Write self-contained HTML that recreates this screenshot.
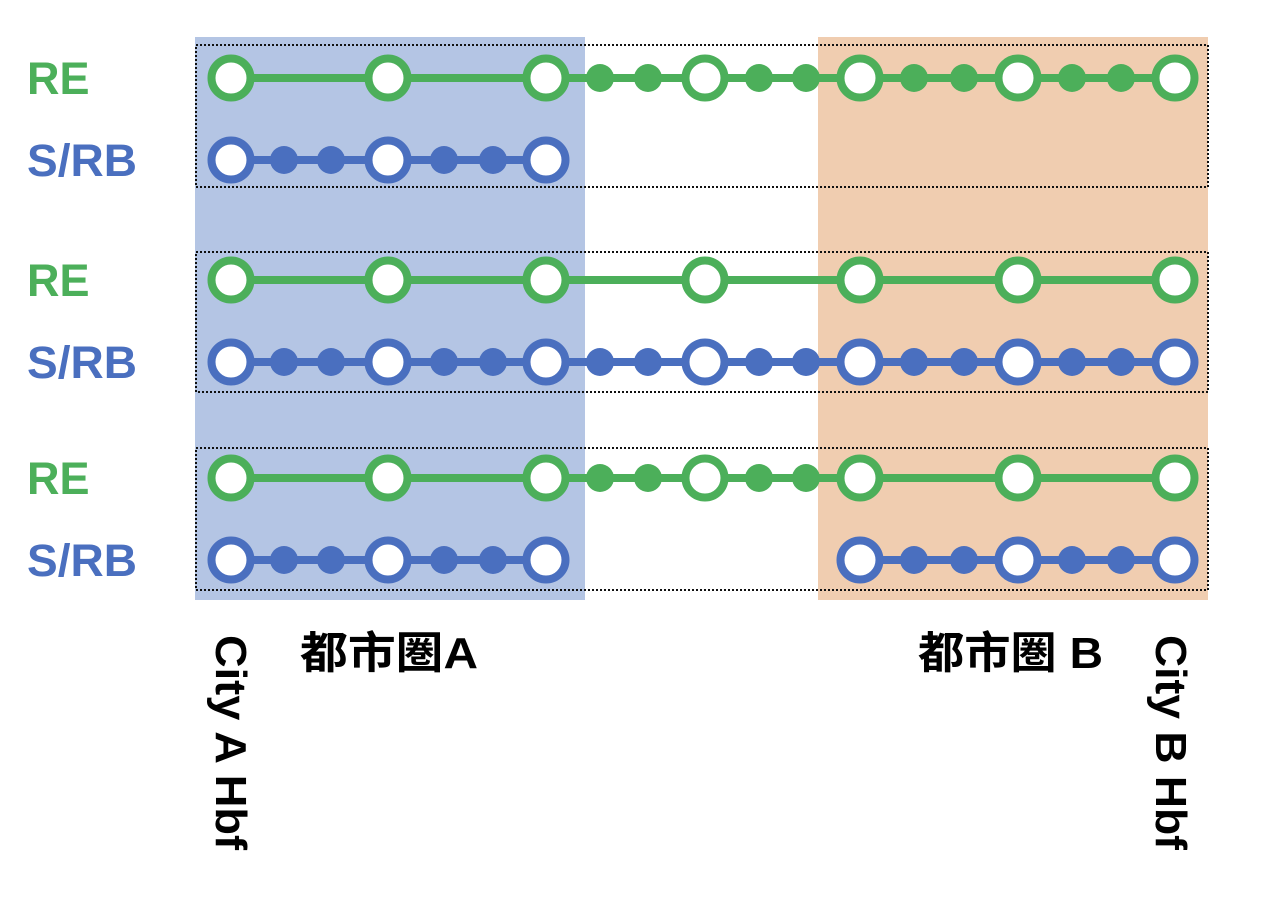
<!DOCTYPE html>
<html><head><meta charset="utf-8"><style>html,body{margin:0;padding:0;background:#fff}</style></head>
<body>
<svg width="1280" height="908" viewBox="0 0 1280 908" xmlns="http://www.w3.org/2000/svg">
<rect x="195" y="37" width="390" height="563" fill="#b4c5e4"/>
<rect x="818" y="37" width="390" height="563" fill="#f0cdb0"/>
<g fill="none" stroke="#111" stroke-width="2" stroke-dasharray="2,2">
<rect x="196" y="45" width="1012" height="142"/>
<rect x="196" y="252" width="1012" height="140"/>
<rect x="196" y="448" width="1012" height="142"/>
</g>
<g font-family="Liberation Sans, sans-serif" font-weight="bold" font-size="45">
<text x="27" y="94" fill="#4caf5a">RE</text>
<text x="27" y="176" fill="#4a6fbf" textLength="110" lengthAdjust="spacingAndGlyphs">S/RB</text>
<text x="27" y="296" fill="#4caf5a">RE</text>
<text x="27" y="378" fill="#4a6fbf" textLength="110" lengthAdjust="spacingAndGlyphs">S/RB</text>
<text x="27" y="494" fill="#4caf5a">RE</text>
<text x="27" y="576" fill="#4a6fbf" textLength="110" lengthAdjust="spacingAndGlyphs">S/RB</text>
</g>
<defs>
<g id="bg"><circle r="19.5" fill="#fff" stroke="#4caf5a" stroke-width="8"/></g>
<g id="bb"><circle r="19.5" fill="#fff" stroke="#4a6fbf" stroke-width="8"/></g>
<g id="sg"><circle r="14" fill="#4caf5a"/></g>
<g id="sb"><circle r="14" fill="#4a6fbf"/></g>
</defs>
<line x1="231" y1="78" x2="1175" y2="78" stroke="#4caf5a" stroke-width="8"/>
<use href="#sg" x="600" y="78"/><use href="#sg" x="648" y="78"/><use href="#sg" x="759" y="78"/><use href="#sg" x="806" y="78"/><use href="#sg" x="914" y="78"/><use href="#sg" x="964" y="78"/><use href="#sg" x="1072" y="78"/><use href="#sg" x="1121" y="78"/>
<use href="#bg" x="231" y="78"/><use href="#bg" x="388" y="78"/><use href="#bg" x="546" y="78"/><use href="#bg" x="705" y="78"/><use href="#bg" x="860" y="78"/><use href="#bg" x="1018" y="78"/><use href="#bg" x="1175" y="78"/>
<line x1="231" y1="160" x2="546" y2="160" stroke="#4a6fbf" stroke-width="8"/>
<use href="#sb" x="284" y="160"/><use href="#sb" x="331" y="160"/><use href="#sb" x="444" y="160"/><use href="#sb" x="493" y="160"/>
<use href="#bb" x="231" y="160"/><use href="#bb" x="388" y="160"/><use href="#bb" x="546" y="160"/>
<line x1="231" y1="280" x2="1175" y2="280" stroke="#4caf5a" stroke-width="8"/>
<use href="#bg" x="231" y="280"/><use href="#bg" x="388" y="280"/><use href="#bg" x="546" y="280"/><use href="#bg" x="705" y="280"/><use href="#bg" x="860" y="280"/><use href="#bg" x="1018" y="280"/><use href="#bg" x="1175" y="280"/>
<line x1="231" y1="362" x2="1175" y2="362" stroke="#4a6fbf" stroke-width="8"/>
<use href="#sb" x="284" y="362"/><use href="#sb" x="331" y="362"/><use href="#sb" x="444" y="362"/><use href="#sb" x="493" y="362"/><use href="#sb" x="600" y="362"/><use href="#sb" x="648" y="362"/><use href="#sb" x="759" y="362"/><use href="#sb" x="806" y="362"/><use href="#sb" x="914" y="362"/><use href="#sb" x="964" y="362"/><use href="#sb" x="1072" y="362"/><use href="#sb" x="1121" y="362"/>
<use href="#bb" x="231" y="362"/><use href="#bb" x="388" y="362"/><use href="#bb" x="546" y="362"/><use href="#bb" x="705" y="362"/><use href="#bb" x="860" y="362"/><use href="#bb" x="1018" y="362"/><use href="#bb" x="1175" y="362"/>
<line x1="231" y1="478" x2="1175" y2="478" stroke="#4caf5a" stroke-width="8"/>
<use href="#sg" x="600" y="478"/><use href="#sg" x="648" y="478"/><use href="#sg" x="759" y="478"/><use href="#sg" x="806" y="478"/>
<use href="#bg" x="231" y="478"/><use href="#bg" x="388" y="478"/><use href="#bg" x="546" y="478"/><use href="#bg" x="705" y="478"/><use href="#bg" x="860" y="478"/><use href="#bg" x="1018" y="478"/><use href="#bg" x="1175" y="478"/>
<line x1="231" y1="560" x2="546" y2="560" stroke="#4a6fbf" stroke-width="8"/>
<line x1="860" y1="560" x2="1175" y2="560" stroke="#4a6fbf" stroke-width="8"/>
<use href="#sb" x="284" y="560"/><use href="#sb" x="331" y="560"/><use href="#sb" x="444" y="560"/><use href="#sb" x="493" y="560"/><use href="#sb" x="914" y="560"/><use href="#sb" x="964" y="560"/><use href="#sb" x="1072" y="560"/><use href="#sb" x="1121" y="560"/>
<use href="#bb" x="231" y="560"/><use href="#bb" x="388" y="560"/><use href="#bb" x="546" y="560"/><use href="#bb" x="860" y="560"/><use href="#bb" x="1018" y="560"/><use href="#bb" x="1175" y="560"/>
<g font-family="Liberation Sans, 'Noto Sans CJK SC', sans-serif" font-weight="bold" font-size="44" fill="#000">
<text x="300" y="668" textLength="178" lengthAdjust="spacingAndGlyphs">都市圏A</text>
<text x="918" y="668" textLength="185" lengthAdjust="spacingAndGlyphs">都市圏 B</text>
<text transform="translate(216,635) rotate(90)" textLength="215" lengthAdjust="spacingAndGlyphs">City A Hbf</text>
<text transform="translate(1156,635) rotate(90)" textLength="215" lengthAdjust="spacingAndGlyphs">City B Hbf</text>
</g>
</svg>
</body></html>
